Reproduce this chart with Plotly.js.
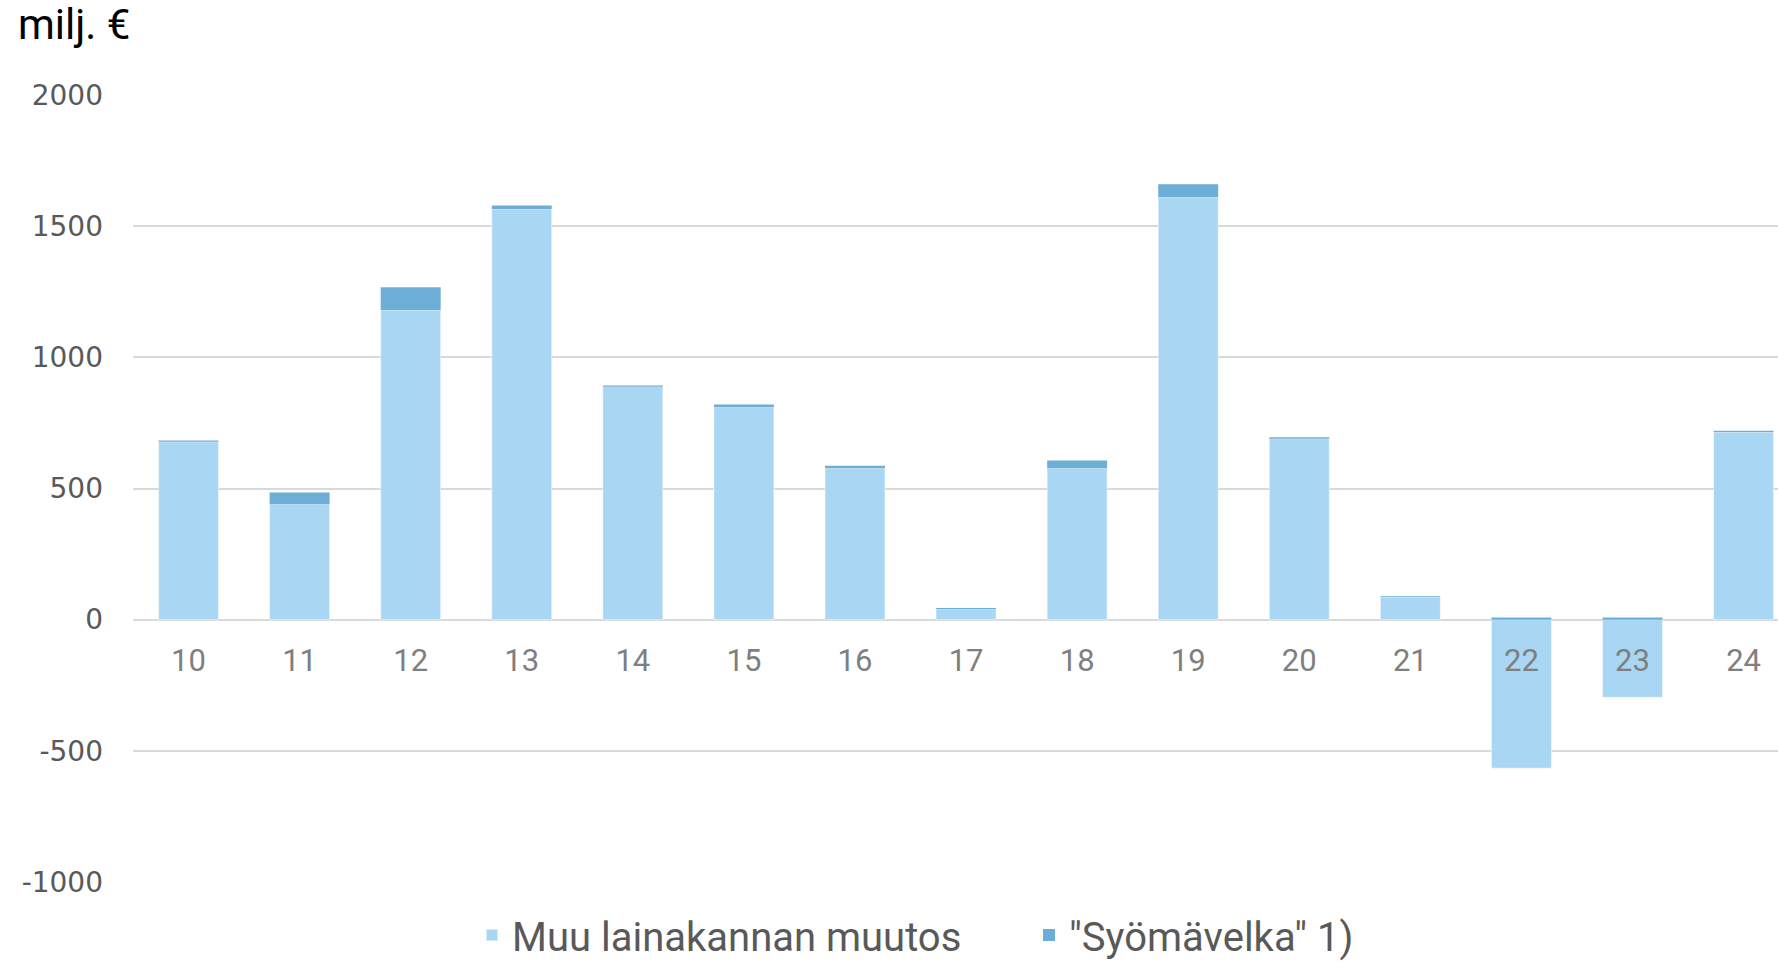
<!DOCTYPE html>
<html>
<head>
<meta charset="utf-8">
<script src="https://cdn.plot.ly/plotly-3.0.1.min.js"></script>
<style>
html,body{margin:0;padding:0;background:#fff;}
#chart{width:1778px;height:963px;}
</style>
</head>
<body>
<div id="chart"></div>
<script>
const categories = ['10','11','12','13','14','15','16','17','18','19','20','21','22','23','24'];
const muuLainakanta = [678, 440, 1180, 1565, 888, 810, 577, 41, 577, 1610, 690, 86, -566, -296, 715];
const syomavelka = [5, 45, 87, 14, 5, 10, 10, 3, 30, 50, 5, 3, 8, 8, 5];
const seriesNames = ['Muu lainakannan muutos', '"Syömävelka" 1)'];
const yTicks = [-1000, -500, 0, 500, 1000, 1500, 2000];

const FONT = 'Roboto, "Open Sans", sans-serif';
const TICKFONT = '"DejaVu Sans", Roboto, sans-serif';

const traces = [
  {
    type: 'bar', name: seriesNames[0], x: categories, y: muuLainakanta,
    marker: {color: '#a8d6f3', line: {color: 'rgba(255,255,255,0.5)', width: 1}},
    hoverinfo: 'x+y'
  },
  {
    type: 'bar', name: seriesNames[1], x: categories, y: syomavelka,
    marker: {color: '#6daed6', line: {width: 0}},
    hoverinfo: 'x+y'
  }
];

const layout = {
  width: 1778, height: 963,
  paper_bgcolor: '#ffffff', plot_bgcolor: '#ffffff',
  barmode: 'relative',
  bargap: 0.46,
  showlegend: true,
  margin: {l: 133, r: 0, t: 95, b: 81, autoexpand: false},
  font: {family: FONT, color: '#595959'},
  title: {
    text: 'milj. €',
    x: 18/1778, xanchor: 'left', xref: 'container',
    y: 1 - 24/963, yanchor: 'middle', yref: 'container',
    font: {family: FONT, size: 42, color: '#000000'}
  },
  xaxis: {
    type: 'category',
    range: [-0.5, 14.31],
    anchor: 'free', position: 0.3323,
    showgrid: false, showline: false, zeroline: false,
    ticks: '', ticklabelstandoff: 19,
    tickfont: {family: FONT, size: 31, color: '#7f7f7f'},
    fixedrange: true
  },
  yaxis: {
    range: [-1000, 2000],
    tickvals: yTicks,
    ticktext: yTicks.map(String),
    showgrid: true, gridcolor: '#d9d9d9', gridwidth: 2,
    zeroline: true, zerolinecolor: '#d9d9d9', zerolinewidth: 2,
    showline: false, ticks: '', ticklabelstandoff: 29,
    tickfont: {family: TICKFONT, size: 28, color: '#595959'},
    fixedrange: true
  },
  legend: {
    orientation: 'h',
    x: (472 - 133) / 1645, xanchor: 'left',
    y: -(935 - 882) / 787, yanchor: 'middle',
    font: {family: FONT, size: 40, color: '#595959'},
    traceorder: 'normal',
    entrywidth: 512,
    itemsizing: 'constant'
  }
};

Plotly.newPlot('chart', traces, layout, {displayModeBar: false, staticPlot: true});
</script>
</body>
</html>
